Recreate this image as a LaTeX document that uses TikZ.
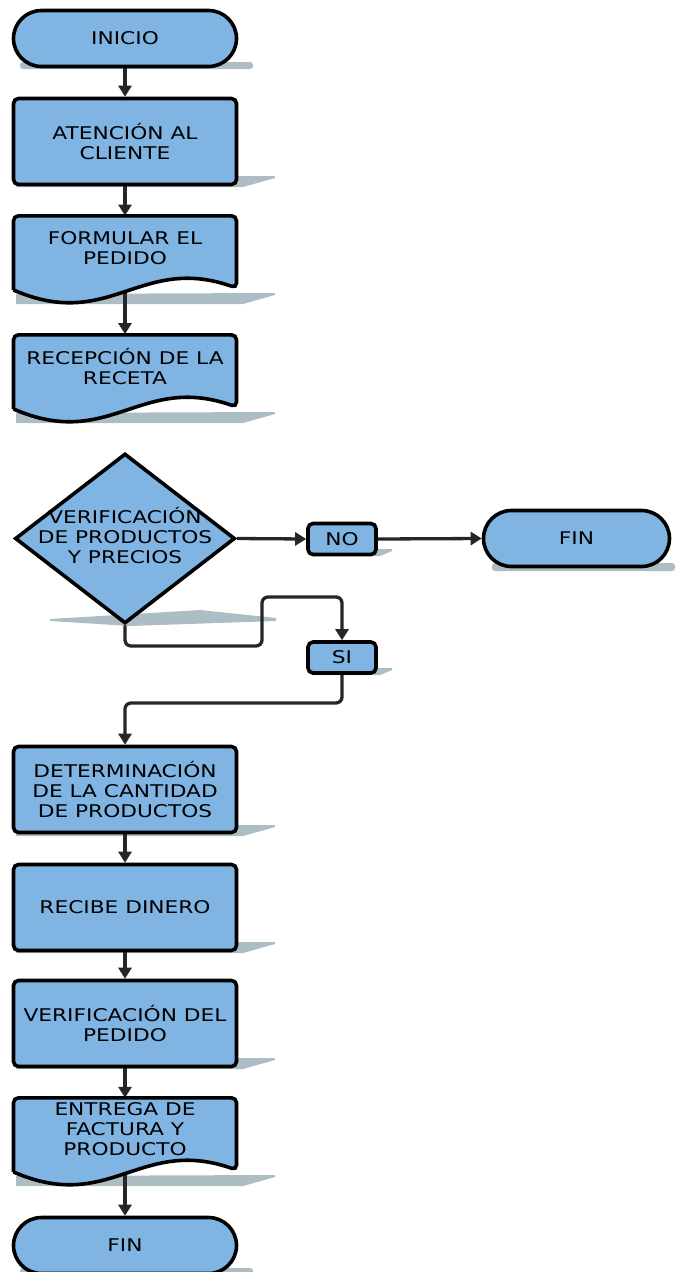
\documentclass[tikz,border=0pt]{standalone}
\usepackage{fontspec}
\setmainfont[FakeStretch=1.24]{DejaVu Sans}
\usetikzlibrary{shapes.geometric,arrows.meta}
\definecolor{boxfill}{RGB}{128,180,226}
\definecolor{shad}{RGB}{172,190,196}
\definecolor{conn}{RGB}{38,38,38}
\pgfdeclarelayer{shadowlayer}
\pgfdeclarelayer{connlayer}
\pgfdeclarelayer{doclayer}
\pgfsetlayers{shadowlayer,connlayer,doclayer,main}
\newcommand\docpath[1]{%
  \begin{pgfonlayer}{doclayer}
  \path[docshape] (13.5,#1+76) -- (13.5,#1+1.8) -- (236.5,#1+1.8) -- (236.5,#1+74)
     .. controls (140,#1+40) and (110,#1+118) .. (13.5,#1+76);
  \end{pgfonlayer}}
\newcommand\rectshadow[1]{%
  \begin{pgfonlayer}{shadowlayer}
  \path[shadowfill] (16,#1-9) -- (275,#1-10) -- (275,#1-8) -- (243,#1+1) -- (16,#1+1) -- cycle;
  \end{pgfonlayer}}
\begin{document}
\begin{tikzpicture}[x=1pt,y=-1pt,
  every node/.style={font=\fontsize{17.5}{20}\selectfont, align=center, text=black},
  term/.style={draw=black, line width=3.6pt, fill=boxfill, rounded corners=28pt, minimum width=223pt, minimum height=56pt, inner sep=0pt},
  proc/.style={draw=black, line width=3.6pt, fill=boxfill, rounded corners=5pt, minimum width=223pt, minimum height=86pt, inner sep=0pt},
  smallbox/.style={proc, minimum width=68pt, minimum height=31pt},
  doctext/.style={minimum width=223pt, minimum height=65pt, inner sep=0pt},
  docshape/.style={draw=black, line width=3.6pt, fill=boxfill, rounded corners=5pt},
  link/.style={draw=conn, line width=3.3pt, rounded corners=6pt},
  arr/.style={link, -{Triangle[length=11pt,width=13pt]}},
  shadowfill/.style={fill=shad, draw=none},
]
\useasboundingbox (0,0) rectangle (675,1272);
\clip (0,0) rectangle (675,1272);

% nodes
\node[term] (inicio) at (125,38.5) {INICIO};
\node[proc] (aten) at (125,141.5) {ATENCIÓN AL\\CLIENTE};
\node[doctext] (form) at (125,215.8+32.5) {FORMULAR EL\\PEDIDO};
\docpath{214}
\node[doctext] (rece) at (125,334.8+32) {RECEPCIÓN DE LA\\RECETA};
\docpath{333}
\node[diamond, draw=black, line width=3.6pt, fill=boxfill, minimum width=220pt, minimum height=170pt, inner sep=0pt] (dec) at (125,538.5) {};
\node (dectext) at (125,535.5) {VERIFICACIÓN\\DE PRODUCTOS\\Y PRECIOS};
\node[smallbox] (no) at (342,539) {NO};
\node[term, minimum width=186pt] (fin1) at (576.5,538.5) {FIN};
\node[smallbox] (si) at (342,657.5) {SI};
\node[proc] (det) at (125,789.5) {DETERMINACIÓN\\DE LA CANTIDAD\\DE PRODUCTOS};
\node[proc] (recibe) at (125,907.5) {RECIBE DINERO};
\node[proc] (verif) at (125,1023.5) {VERIFICACIÓN DEL\\PEDIDO};
\node[doctext] (entrega) at (125,1097.8+31.5) {ENTREGA DE\\FACTURA Y\\PRODUCTO};
\docpath{1096}
\node[term] (fin2) at (125,1245.5) {FIN};

% connectors
\begin{pgfonlayer}{connlayer}
\path[arr] (inicio.south) -- (aten.north);
\path[arr] (aten.south) -- (form.north);
\path[arr] (form.south) -- (rece.north);
\path[arr] (dec.east) -- (no.west);
\path[arr] (no.east) -- (fin1.west);
\path[arr] (dec.south) -- (125,646) -- (262,646) -- (262,597) -- (342,597) -- (si.north);
\path[arr] (si.south) -- (342,703) -- (125,703) -- (det.north);
\path[arr] (det.south) -- (recibe.north);
\path[arr] (recibe.south) -- (verif.north);
\path[arr] (verif.south) -- (1250,1097.8 -| entrega.north);
\path[arr] (entrega.south) -- (fin2.north);
\end{pgfonlayer}

% shadows
\begin{pgfonlayer}{shadowlayer}
\path[shadowfill, rounded corners=3pt] (20,62) rectangle (253,69);
\path[shadowfill, rounded corners=3pt] (20,1268) rectangle (253,1276);
\path[shadowfill, rounded corners=3pt] (492,563) rectangle (675,571);
\path[shadowfill] (312,549) -- (392,549) -- (392,551) -- (380,556) -- (312,556) -- cycle;
\path[shadowfill] (312,668) -- (392,668) -- (392,670) -- (380,675) -- (312,675) -- cycle;
\path[shadowfill] (50,619) -- (200,610) -- (276,618) -- (276,621) -- (130,626) -- (50,621) -- cycle;
\end{pgfonlayer}
\rectshadow{186}
\rectshadow{303}
\rectshadow{422}
\rectshadow{835}
\rectshadow{952}
\rectshadow{1068}
\rectshadow{1185}
\end{tikzpicture}
\end{document}
